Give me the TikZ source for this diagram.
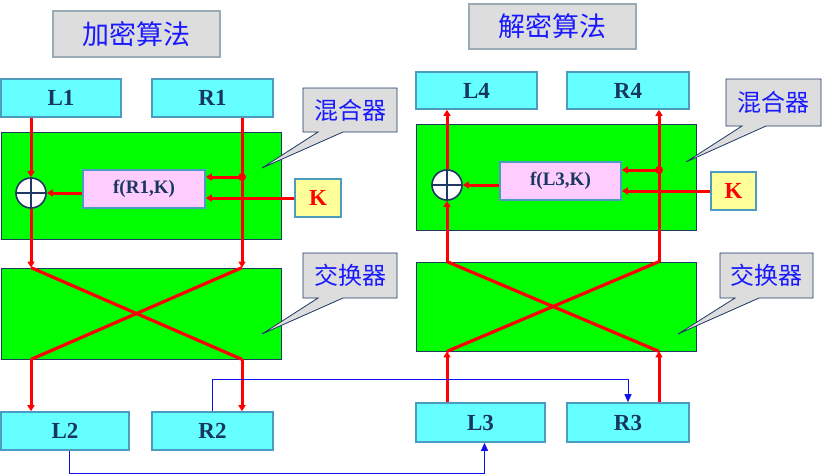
\documentclass[tikz,border=0pt]{standalone}
\usepackage{fontspec}
\setmainfont{Liberation Serif}
\newfontfamily\cjk{Noto Sans CJK SC}
\usetikzlibrary{arrows.meta,calc}
\definecolor{cyanf}{HTML}{66FFFF}
\definecolor{boxb}{HTML}{4B9CC0}
\definecolor{greenf}{HTML}{00FF00}
\definecolor{navy}{HTML}{1F3864}
\definecolor{txt}{HTML}{17375E}
\definecolor{pinkf}{HTML}{FFCCFF}
\definecolor{yelf}{HTML}{FFFF99}
\definecolor{grayf}{HTML}{DDDDDD}
\definecolor{titleb}{HTML}{9BABB5}
\definecolor{cblue}{HTML}{1A1AFF}
\definecolor{lblue}{HTML}{1010F0}
\begin{document}
\begin{tikzpicture}[x=1pt,y=-1pt,
  databox/.style={draw=boxb,line width=1.6pt,fill=cyanf,inner sep=0pt,text=txt,
    font=\fontsize{23}{23}\selectfont\bfseries},
  titlebox/.style={draw=titleb,line width=1.6pt,fill=grayf,inner sep=0pt,text=cblue,
    font=\cjk\fontsize{27}{27}\selectfont},
  stagebox/.style={draw=navy,line width=0.8pt,fill=greenf,inner sep=0pt},
  fbox/.style={draw=boxb,line width=1.6pt,fill=pinkf,inner sep=0pt,text=txt,
    font=\fontsize{19}{19}\selectfont\bfseries},
  kbox/.style={draw=boxb,line width=1.6pt,fill=yelf,inner sep=0pt,text=red,
    font=\fontsize{23}{23}\selectfont\bfseries},
  xorc/.style={circle,draw=navy,line width=1.6pt,fill=white,minimum size=30pt,inner sep=0pt},
  callout/.style={draw=navy,line width=0.8pt,fill=grayf},
  calltext/.style={text=cblue,font=\cjk\fontsize{24}{24}\selectfont,inner sep=0pt},
  redl/.style={draw=red,line width=3.2pt},
  reda/.style={draw=red,line width=3pt,-{Triangle[length=6pt,width=7pt]}},
  bluea/.style={draw=lblue,line width=1pt,-{Triangle[length=8pt,width=7pt]}},
  dot/.style={circle,fill=red,minimum size=8pt,inner sep=0pt}]
\useasboundingbox (0,0) rectangle (826,474);

% ---------------- left: encryption ----------------
\node[titlebox,minimum width=167pt,minimum height=46pt] (t1) at (136.5,34) {加密算法};
\node[databox,minimum width=120pt,minimum height=38pt] (L1) at (61,98) {L1};
\node[databox,minimum width=121pt,minimum height=38pt] (R1) at (212.5,98) {R1};
\node[stagebox,minimum width=280pt,minimum height=107pt] (mix1) at (141,185.5) {};
\node[stagebox,minimum width=280pt,minimum height=91pt] (swap1) at (141,313.5) {};
\node[fbox,minimum width=122pt,minimum height=38pt] (f1) at (144,189) {f(R1,K)};
\node[kbox,minimum width=46pt,minimum height=38pt] (K1) at (318,198) {K};
\node[databox,minimum width=128pt,minimum height=38pt] (L2) at (65,431) {L2};
\node[databox,minimum width=121pt,minimum height=38pt] (R2) at (212.5,431) {R2};
\coordinate (d1) at (242,177);

% callouts left
\draw[callout] (303,88) -- (397,88) -- (397,132) -- (343,132) -- (262,168) -- (318,132) -- (303,132) -- cycle;
\node[calltext] (c1) at (350,110) {混合器};
\draw[callout] (303,253) -- (397,253) -- (397,298) -- (343,298) -- (262,334) -- (318,298) -- (303,298) -- cycle;
\node[calltext] (c2) at (350,275.5) {交换器};

% red flow left
\node[xorc] (x1) at (31,193) {};
\draw[navy,line width=1.6pt] (x1.north) -- (x1.south) (x1.west) -- (x1.east);
\path[reda] (x1 |- L1.south) -- (x1.north);
\path[reda] (x1.south) -- (x1 |- swap1.north);
\path[reda] (d1 |- R1.south) -- (d1 |- swap1.north);
\path[reda] (d1) -- (d1 -| f1.east);
\path[reda] (K1.west) -- (K1.west -| f1.east);
\path[reda] (f1.west |- x1) -- (x1.east);
\node[dot] at (d1) {};
\path[redl] (x1 |- swap1.north) -- (d1 |- swap1.south);
\path[redl] (d1 |- swap1.north) -- (x1 |- swap1.south);
\path[reda] (x1 |- swap1.south) -- (x1 |- L2.north);
\path[reda] (d1 |- swap1.south) -- (d1 |- R2.north);

% ---------------- right: decryption ----------------
\node[titlebox,minimum width=167pt,minimum height=45pt] (t2) at (552.5,26.5) {解密算法};
\node[databox,minimum width=121pt,minimum height=37pt] (L4) at (476.5,90.5) {L4};
\node[databox,minimum width=122pt,minimum height=37pt] (R4) at (628,90.5) {R4};
\node[stagebox,minimum width=280pt,minimum height=106pt] (mix2) at (556,177) {};
\node[stagebox,minimum width=280pt,minimum height=89pt] (swap2) at (556,306.5) {};
\node[fbox,minimum width=121pt,minimum height=38pt] (f2) at (560.5,181) {f(L3,K)};
\node[kbox,minimum width=45pt,minimum height=38pt] (K2) at (733.5,191) {K};
\node[databox,minimum width=129pt,minimum height=39pt] (L3) at (480.5,422.5) {L3};
\node[databox,minimum width=122pt,minimum height=39pt] (R3) at (628,422.5) {R3};
\coordinate (d2) at (659,170);

\draw[callout] (726,79) -- (821,79) -- (821,126) -- (766,126) -- (686,162) -- (742,126) -- (726,126) -- cycle;
\node[calltext] (c3) at (773.5,102.5) {混合器};
\draw[callout] (720,253) -- (813,253) -- (813,298) -- (759,298) -- (678,334) -- (735,298) -- (720,298) -- cycle;
\node[calltext] (c4) at (766.5,275.5) {交换器};

\node[xorc] (x2) at (447,185) {};
\draw[navy,line width=1.6pt] (x2.north) -- (x2.south) (x2.west) -- (x2.east);
\path[reda] (x2 |- L3.north) -- (x2 |- swap2.south);
\path[reda] (d2 |- R3.north) -- (d2 |- swap2.south);
\path[redl] (x2 |- swap2.south) -- (d2 |- swap2.north);
\path[redl] (d2 |- swap2.south) -- (x2 |- swap2.north);
\path[reda] (x2 |- swap2.north) -- (x2.south);
\path[reda] (x2.north) -- (x2 |- L4.south);
\path[reda] (d2 |- swap2.north) -- (d2 |- R4.south);
\path[reda] (d2) -- (d2 -| f2.east);
\path[reda] (K2.west) -- (K2.west -| f2.east);
\path[reda] (f2.west |- x2) -- (x2.east);
\node[dot] at (d2) {};

% ---------------- blue cross connections ----------------
\path[bluea] (R2.north) -- ++(0,-32) -| (R3.north);
\path[bluea] ([xshift=4pt]L2.south) -- ++(0,23) -| ([xshift=4pt]L3.south);
\end{tikzpicture}
\end{document}
